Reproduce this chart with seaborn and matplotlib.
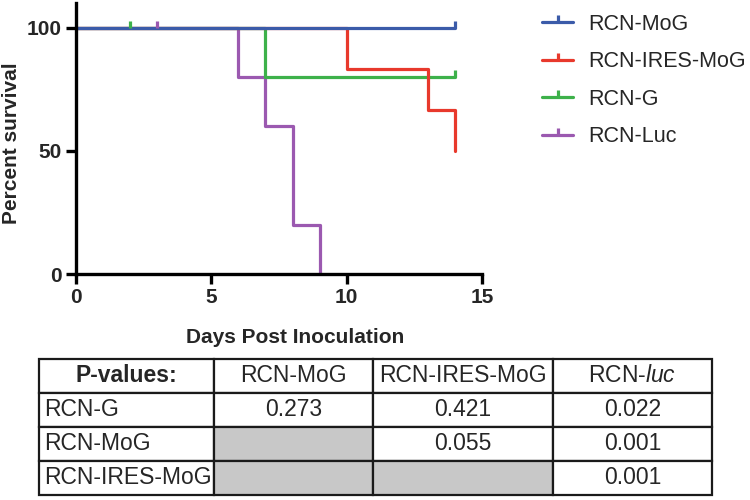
import matplotlib
matplotlib.use("Agg")
import matplotlib.pyplot as plt
from matplotlib.lines import Line2D
import seaborn as sns
import pandas as pd

# ---------------- data ----------------
groups = ["RCN-MoG", "RCN-IRES-MoG", "RCN-G", "RCN-Luc"]
colors = ["#3B5BA9", "#E8392C", "#3DB14A", "#9B59B0"]

mog_days = [0, 14]
mog_surv = [100, 100]
ires_days = [0, 10, 13, 14]
ires_surv = [100, 83.3, 66.7, 50]
g_days = [0, 7, 14]
g_surv = [100, 80, 80]
luc_days = [0, 6, 7, 8, 9]
luc_surv = [100, 80, 60, 20, 0]

# censored observations
mog_cens_days = [14]
mog_cens_surv = [100]
g_cens_days = [2, 14]
g_cens_surv = [100, 80]
luc_cens_days = [3]
luc_cens_surv = [100]

x_ticks = [0, 5, 10, 15]
y_ticks = [0, 50, 100]

col_labels = ["P-values:", "RCN-MoG", "RCN-IRES-MoG", "RCN-$\\mathit{luc}$"]
row_labels = ["RCN-G", "RCN-MoG", "RCN-IRES-MoG"]
pvals = [["0.273", "0.421", "0.022"],
         ["", "0.055", "0.001"],
         ["", "", "0.001"]]
gray_cells = [(2, 1), (3, 1), (3, 2)]

# ---------------- style ----------------
sns.set_style("ticks")
plt.rcParams["font.family"] = ["Liberation Sans", "DejaVu Sans"]
plt.rcParams["mathtext.fontset"] = "custom"
plt.rcParams["mathtext.rm"] = "Liberation Sans"
plt.rcParams["mathtext.it"] = "Liberation Sans:italic"

palette = dict(zip(groups, colors))

rows = []
for name, d, s in [("RCN-MoG", mog_days, mog_surv),
                   ("RCN-IRES-MoG", ires_days, ires_surv),
                   ("RCN-G", g_days, g_surv),
                   ("RCN-Luc", luc_days, luc_surv)]:
    for i, (dd, ss) in enumerate(zip(d, s)):
        rows.append({"group": name, "day": dd, "surv": ss, "order": i})
df = pd.DataFrame(rows)

fig = plt.figure(figsize=(7.5, 5), dpi=100)
ax = fig.add_axes([76 / 750, 1 - 274 / 500, (482 - 76) / 750, (274 - 3) / 500])

draw_order = ["RCN-Luc", "RCN-G", "RCN-IRES-MoG", "RCN-MoG"]
sns.lineplot(data=df, x="day", y="surv", hue="group", hue_order=draw_order,
             palette=palette, estimator=None, sort=False, units="group",
             drawstyle="steps-post", linewidth=2.3, legend=False, ax=ax)

tick_marker = [(0, 0), (0, 1)]
for name, d, s in [("RCN-Luc", luc_cens_days, luc_cens_surv),
                   ("RCN-G", g_cens_days, g_cens_surv),
                   ("RCN-MoG", mog_cens_days, mog_cens_surv)]:
    ax.plot(d, s, linestyle="none", marker=tick_marker, markersize=10,
            markeredgewidth=2.3, color=palette[name], clip_on=False)

ax.set_xlim(0, 15)
ax.set_ylim(0, 110)
ax.set_xticks(x_ticks)
ax.set_yticks(y_ticks)
for sp in ["top", "right"]:
    ax.spines[sp].set_visible(False)
for sp in ["left", "bottom"]:
    ax.spines[sp].set_linewidth(2.4)
    ax.spines[sp].set_color("black")
ax.tick_params(axis="both", length=7, width=2.4, color="black", pad=3,
               labelsize=15)
for lab in ax.get_xticklabels() + ax.get_yticklabels():
    lab.set_fontweight("bold")
ax.set_xlabel("Days Post Inoculation", fontsize=15, fontweight="bold")
ax.xaxis.set_label_coords((295 - 76) / (482 - 76), -(328 - 274) / 271)
ax.set_ylabel("Percent survival", fontsize=15, fontweight="bold")
ax.yaxis.set_label_coords(-(76 - 21) / 406, (274 - 143) / 271)

handles = [Line2D([0], [0], color=c, lw=2.3, marker=tick_marker,
                  markersize=10, markeredgewidth=2.3) for c in colors]
fig.legend(handles, groups, loc="upper left",
           bbox_to_anchor=(542 / 750, 1 - 14 / 500), frameon=False,
           fontsize=15.5, handlelength=1.45, handletextpad=0.7,
           labelspacing=0.76, borderpad=0, borderaxespad=0)

# ---------------- table ----------------
tax = fig.add_axes([39 / 750, 5 / 500, 673 / 750, 136 / 500])
tax.axis("off")
cell_text = [[r] + v for r, v in zip(row_labels, pvals)]
widths = [175, 159, 180, 159]
tot = sum(widths)
tbl = tax.table(cellText=cell_text, colLabels=col_labels,
                colWidths=[w / tot for w in widths], cellLoc="center",
                bbox=[0, 0, 1, 1])
tbl.auto_set_font_size(False)
for (r, c), cell in tbl.get_celld().items():
    cell.set_linewidth(1.6)
    cell.set_edgecolor("#1a1a1a")
    cell.get_text().set_fontsize(16.5)
    if (r, c) in gray_cells:
        cell.set_facecolor("#C8C8C8")
    if c == 0 and r > 0:
        cell._loc = "left"
        cell.PAD = 0.03
        cell.get_text().set_ha("left")
    if r == 0 and c == 0:
        cell.get_text().set_fontweight("bold")

fig.savefig("out.png", dpi=100)
